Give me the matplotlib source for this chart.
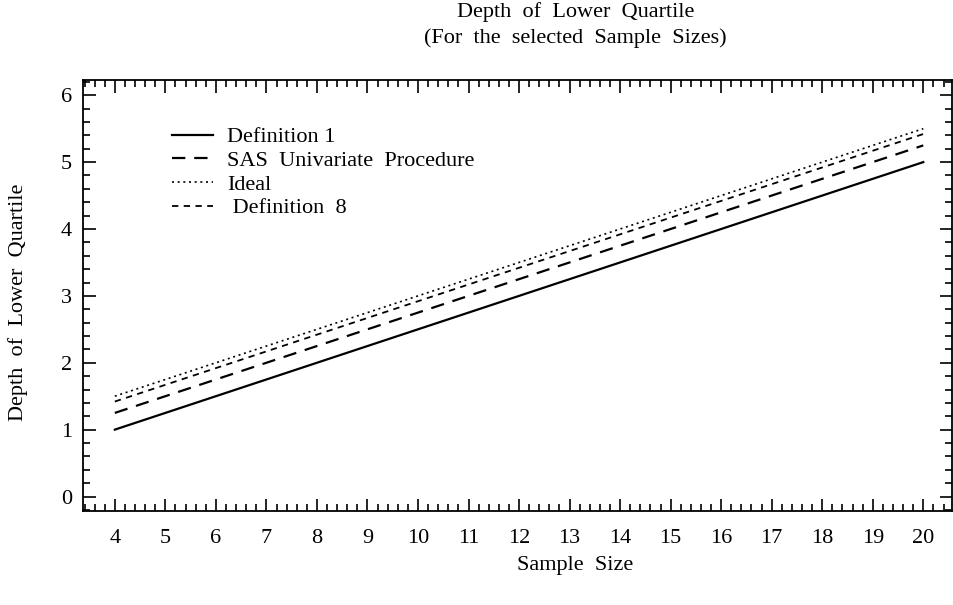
import matplotlib.pyplot as plt
from matplotlib.ticker import MultipleLocator

# sample sizes shown on the x axis
sample_size = [4, 5, 6, 7, 8, 9, 10, 11, 12, 13, 14, 15, 16, 17, 18, 19, 20]

# depth of lower quartile for each method
definition_1 = [1.0, 1.25, 1.5, 1.75, 2.0, 2.25, 2.5, 2.75, 3.0, 3.25, 3.5, 3.75, 4.0, 4.25, 4.5, 4.75, 5.0]
sas_univariate = [1.25, 1.5, 1.75, 2.0, 2.25, 2.5, 2.75, 3.0, 3.25, 3.5, 3.75, 4.0, 4.25, 4.5, 4.75, 5.0, 5.25]
ideal = [1.5, 1.75, 2.0, 2.25, 2.5, 2.75, 3.0, 3.25, 3.5, 3.75, 4.0, 4.25, 4.5, 4.75, 5.0, 5.25, 5.5]
definition_8 = [1.42, 1.67, 1.92, 2.17, 2.42, 2.67, 2.92, 3.17, 3.42, 3.67, 3.92, 4.17, 4.42, 4.67, 4.92, 5.17, 5.42]

plt.rcParams['font.family'] = ['Liberation Serif', 'DejaVu Serif']

fig = plt.figure(figsize=(9.54, 6.05), dpi=100)
ax = fig.add_axes([0.087, 0.155, 0.911, 0.713])

ax.plot(sample_size, definition_1, color='black', lw=1.6, ls='-', label='Definition 1')
ax.plot(sample_size, sas_univariate, color='black', lw=1.6, ls=(0, (6, 4)), label='SAS  Univariate  Procedure')
ax.plot(sample_size, ideal, color='black', lw=1.2, ls=(0, (1.2, 2.2)), label='Ideal')
ax.plot(sample_size, definition_8, color='black', lw=1.3, ls=(0, (3.5, 3)), label=' Definition  8')

ax.set_xlim(3.37, 20.57)
ax.set_ylim(-0.22, 6.23)
ax.xaxis.set_major_locator(MultipleLocator(1))
ax.xaxis.set_minor_locator(MultipleLocator(0.2))
ax.yaxis.set_major_locator(MultipleLocator(1))
ax.yaxis.set_minor_locator(MultipleLocator(0.2))
ax.tick_params(which='both', direction='in', top=True, right=True, labelsize=16, width=1.2, colors='black')
ax.tick_params(which='major', length=9)
ax.tick_params(which='minor', length=5)
ax.tick_params(axis='x', which='major', pad=13)
ax.tick_params(axis='y', which='major', pad=8)
for s in ax.spines.values():
    s.set_linewidth(1.3)

ax.legend(loc='upper left', bbox_to_anchor=(0.09, 0.917), frameon=False, fontsize=16,
          handlelength=1.85, handletextpad=0.6, labelspacing=0.14, borderpad=0)

fig.text(0.603, 0.980, 'Depth  of  Lower  Quartile', ha='center', va='center', fontsize=16)
fig.text(0.603, 0.937, '(For  the  selected  Sample  Sizes)', ha='center', va='center', fontsize=16)
fig.text(0.603, 0.066, 'Sample  Size', ha='center', va='center', fontsize=16)
fig.text(0.019, 0.5, 'Depth  of  Lower  Quartile', ha='center', va='center', rotation=90, fontsize=16)

plt.savefig('out.png', dpi=100)
